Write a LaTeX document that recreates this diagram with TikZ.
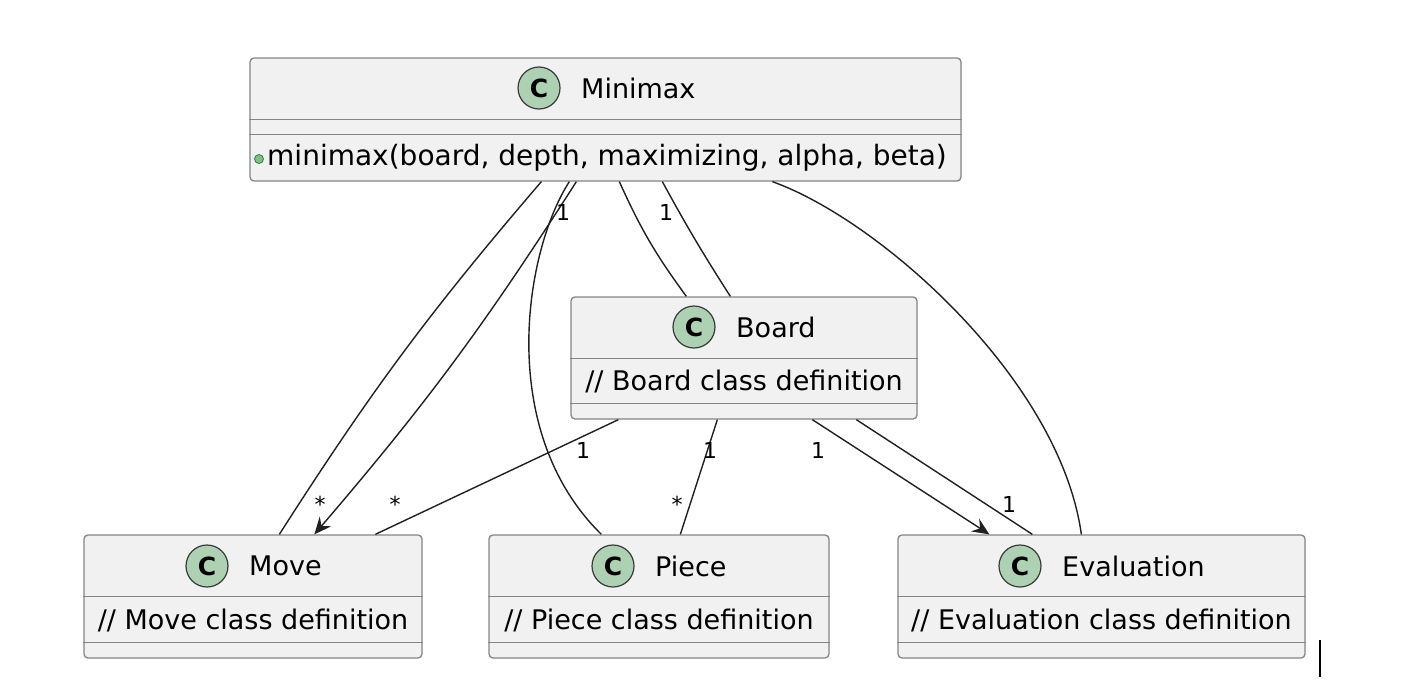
\documentclass[tikz,border=0pt]{standalone}
\usepackage{fontspec}
\setmainfont{DejaVu Sans}
\usetikzlibrary{arrows.meta,calc}
\definecolor{boxfill}{HTML}{F1F1F1}
\definecolor{boxline}{HTML}{858585}
\definecolor{iconfill}{HTML}{ADD1B2}
\definecolor{iconline}{HTML}{3A3A3A}
\definecolor{linkcol}{HTML}{202020}
\definecolor{dotfill}{HTML}{84BE84}
\definecolor{dotline}{HTML}{2E7D4A}
\tikzset{
  classbox/.style={draw=boxline, line width=1.3pt, fill=boxfill, rounded corners=4pt, inner sep=0pt},
  cicon/.style={circle, draw=iconline, line width=1.2pt, fill=iconfill, minimum size=42pt, inner sep=0pt, font=\fontsize{25}{30}\selectfont\bfseries},
  cname/.style={anchor=west, inner sep=0pt, font=\fontsize{27}{32}\selectfont},
  ctext/.style={inner sep=0pt, font=\fontsize{27}{32}\selectfont},
  mult/.style={inner sep=0pt, font=\fontsize{22}{26}\selectfont},
  link/.style={draw=linkcol, line width=1.4pt},
  sep/.style={draw=boxline, line width=1.3pt}
}
\begin{document}
\begin{tikzpicture}[x=1pt, y=-1pt]
    \useasboundingbox (0,0) rectangle (1428,691);

    \node[classbox, minimum width=711pt, minimum height=123pt] (minimax) at (605.5,119.5) {};
    \node[classbox, minimum width=346pt, minimum height=122pt] (board) at (744,358) {};
    \node[classbox, minimum width=338pt, minimum height=123pt] (move) at (253,596.5) {};
    \node[classbox, minimum width=340pt, minimum height=123pt] (piece) at (659,596.5) {};
    \node[classbox, minimum width=407pt, minimum height=123pt] (evaluation) at (1101.5,596.5) {};

    \draw[sep] ([yshift=-62pt]minimax.north west) -- ([yshift=-62pt]minimax.north east);
    \draw[sep] ([yshift=-77pt]minimax.north west) -- ([yshift=-77pt]minimax.north east);
    \draw[sep] ([yshift=-62pt]board.north west) -- ([yshift=-62pt]board.north east);
    \draw[sep] ([yshift=-107pt]board.north west) -- ([yshift=-107pt]board.north east);
    \draw[sep] ([yshift=-62pt]move.north west) -- ([yshift=-62pt]move.north east);
    \draw[sep] ([yshift=-108pt]move.north west) -- ([yshift=-108pt]move.north east);
    \draw[sep] ([yshift=-62pt]piece.north west) -- ([yshift=-62pt]piece.north east);
    \draw[sep] ([yshift=-108pt]piece.north west) -- ([yshift=-108pt]piece.north east);
    \draw[sep] ([yshift=-62pt]evaluation.north west) -- ([yshift=-62pt]evaluation.north east);
    \draw[sep] ([yshift=-108pt]evaluation.north west) -- ([yshift=-108pt]evaluation.north east);

    \node[cicon] (minimaxC) at (539,88) {C};
    \node[cname] (minimaxN) at (581,88) {Minimax};
    \node[cicon] (boardC) at (694,327) {C};
    \node[cname] (boardN) at (736,327) {Board};
    \node[cicon] (moveC) at (207,566) {C};
    \node[cname] (moveN) at (249,566) {Move};
    \node[cicon] (pieceC) at (613,566) {C};
    \node[cname] (pieceN) at (655,566) {Piece};
    \node[cicon] (evaluationC) at (1020,566) {C};
    \node[cname] (evaluationN) at (1062,566) {Evaluation};

    \node[circle, draw=dotline, fill=dotfill, line width=0.8pt, minimum size=9pt, inner sep=0pt] (minimaxDot) at (259,159) {};
    \node[cname, font=\fontsize{28}{33}\selectfont] (minimaxM) at (267,158) {minimax(board, depth, maximizing, alpha, beta)};
    \node[ctext] (boardF) at (744,381) {// Board class definition};
    \node[ctext] (moveF) at (253,620) {// Move class definition};
    \node[ctext] (pieceF) at (659,620) {// Piece class definition};
    \node[ctext] (evaluationF) at (1101.5,620) {// Evaluation class definition};

    \draw[link] ([xshift=292pt]minimax.south west) to[bend right=4] ([xshift=196pt]move.north west);
    \draw[link, -{Stealth[length=17pt, width=15pt, inset=6pt]}] ([xshift=327pt]minimax.south west) to[bend left=4] ([xshift=231pt]move.north west);
    \draw[link] ([xshift=320pt]minimax.south west) .. controls (525,250) and (495,430) .. ([xshift=113pt]piece.north west);
    \draw[link] ([xshift=370pt]minimax.south west) to[bend right=6] ([xshift=116pt]board.north west);
    \draw[link] ([xshift=413pt]minimax.south west) to[bend right=2] ([xshift=160pt]board.north west);
    \draw[link] ([xshift=523pt]minimax.south west) .. controls (880,220) and (1060,380) .. ([xshift=184pt]evaluation.north west);

    \draw[link] ([xshift=48pt]board.south west) -- ([xshift=292pt]move.north west);
    \draw[link] ([xshift=147pt]board.south west) -- ([xshift=192pt]piece.north west);
    \draw[link, -{Stealth[length=17pt, width=15pt, inset=6pt]}] ([xshift=242pt]board.south west) -- ([xshift=92pt]evaluation.north west);
    \draw[link] ([xshift=286pt]board.south west) -- ([xshift=135pt]evaluation.north west);

    \node[mult] (m1) at (563,212) {1};
    \node[mult] (m2) at (666,212) {1};
    \node[mult] (m3) at (583,450) {1};
    \node[mult] (m4) at (710,450) {1};
    \node[mult] (m5) at (818,450) {1};
    \node[mult] (m6) at (1009,504) {1};
    \node[mult] (s1) at (320,504) {*};
    \node[mult] (s2) at (395,504) {*};
    \node[mult] (s3) at (677,504) {*};

    \draw[line width=2pt] (1320,640) -- (1320,677);
\end{tikzpicture}
\end{document}
